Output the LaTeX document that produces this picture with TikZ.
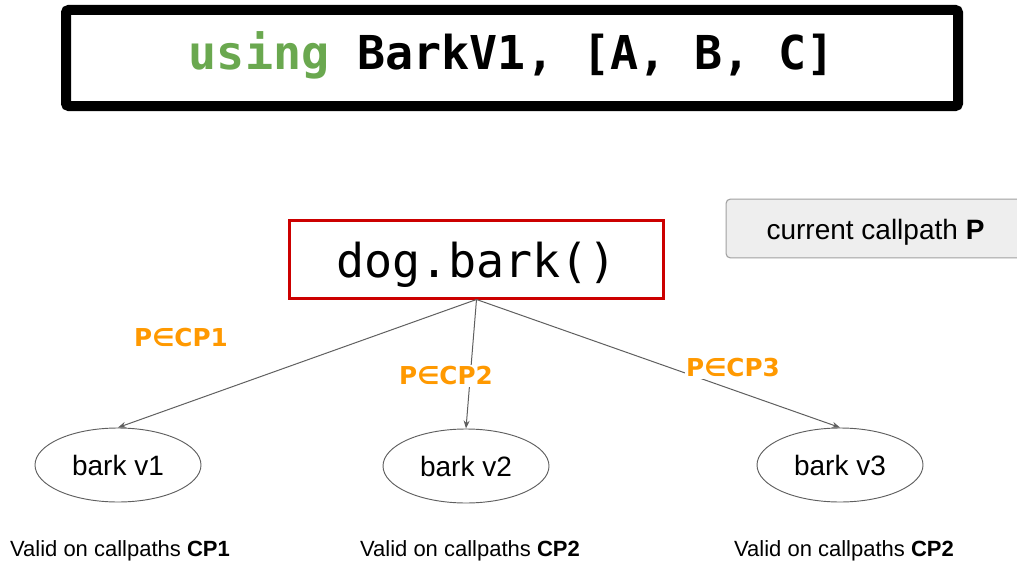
\documentclass[tikz,border=0pt]{standalone}
\usepackage{fontspec}
\setmainfont{Liberation Sans}
\newfontfamily\codefont{DejaVu Sans Mono}
\newfontfamily\condfont{DejaVu Sans}
\usetikzlibrary{arrows.meta,shapes.geometric}

\definecolor{kwgreen}{HTML}{6AA84F}
\definecolor{condorange}{HTML}{FF9900}
\definecolor{callred}{HTML}{CC0000}
\definecolor{edgegray}{HTML}{5F5F5F}
\definecolor{boxfill}{HTML}{EEEEEE}
\definecolor{boxline}{HTML}{A0A0A0}

% shift text vertically inside a box without changing its reported size
\newcommand{\nudge}[2]{\raisebox{#1}[\height][\depth]{#2}}

\tikzset{
  usingbox/.style={draw=black, line width=7.5pt, rounded corners=2pt,
    minimum width=669pt, minimum height=72pt, inner sep=0pt,
    font=\codefont\bfseries\fontsize{35}{42}\selectfont},
  callbox/.style={draw=callred, line width=2.25pt,
    minimum width=281pt, minimum height=58.5pt, inner sep=0pt,
    font=\codefont\fontsize{35}{42}\selectfont},
  pathbox/.style={draw=boxline, fill=boxfill, line width=0.8pt, rounded corners=3pt,
    minimum width=224pt, minimum height=44pt, inner sep=0pt,
    font=\fontsize{21}{25}\selectfont},
  version/.style={ellipse, draw=edgegray, line width=0.7pt,
    minimum width=124.5pt, minimum height=55.5pt, inner sep=0pt,
    font=\fontsize{21}{25}\selectfont},
  cond/.style={fill=white, inner sep=1pt, text=condorange,
    font=\condfont\bfseries\fontsize{18.5}{22}\selectfont},
  note/.style={inner sep=0pt, font=\fontsize{16.5}{20}\selectfont},
  dispatch/.style={draw=edgegray, line width=0.75pt,
    -{Stealth[length=6pt,width=4.5pt]}}
}

\begin{document}
\begin{tikzpicture}[x=0.75pt, y=-0.75pt]
  \useasboundingbox (0,0) rectangle (1017,567);

  % using declaration
  \node[usingbox] (using) at (512,58)
    {\nudge{2pt}{\textcolor{kwgreen}{using} BarkV1, [A, B, C]}};

  % call site and the current callpath
  \node[callbox] (call) at (476.5,259) {\nudge{-4pt}{dog.bark()}};
  \node[pathbox] (path) at (875.5,228.5) {\nudge{-2.5pt}{current callpath \textbf{P}}};

  % implementations
  \node[version] (v1) at (118,465) {bark v1};
  \node[version] (v2) at (466,466) {bark v2};
  \node[version] (v3) at (840,465) {bark v3};

  % dispatch edges
  \draw[dispatch] (call.south) -- (v1.north);
  \draw[dispatch] (call.south) -- (v2.north);
  \draw[dispatch] (call.south) -- (v3.north);

  % dispatch conditions
  \node[cond] (c1) at (181,338) {P∈CP1};
  \node[cond] (c2) at (446,376) {P∈CP2};
  \node[cond] (c3) at (733,368) {P∈CP3};

  % validity notes
  \node[note] (n1) at (120,551) {Valid on callpaths \textbf{CP1}};
  \node[note] (n2) at (470,551) {Valid on callpaths \textbf{CP2}};
  \node[note] (n3) at (844,551) {Valid on callpaths \textbf{CP2}};
\end{tikzpicture}
\end{document}
